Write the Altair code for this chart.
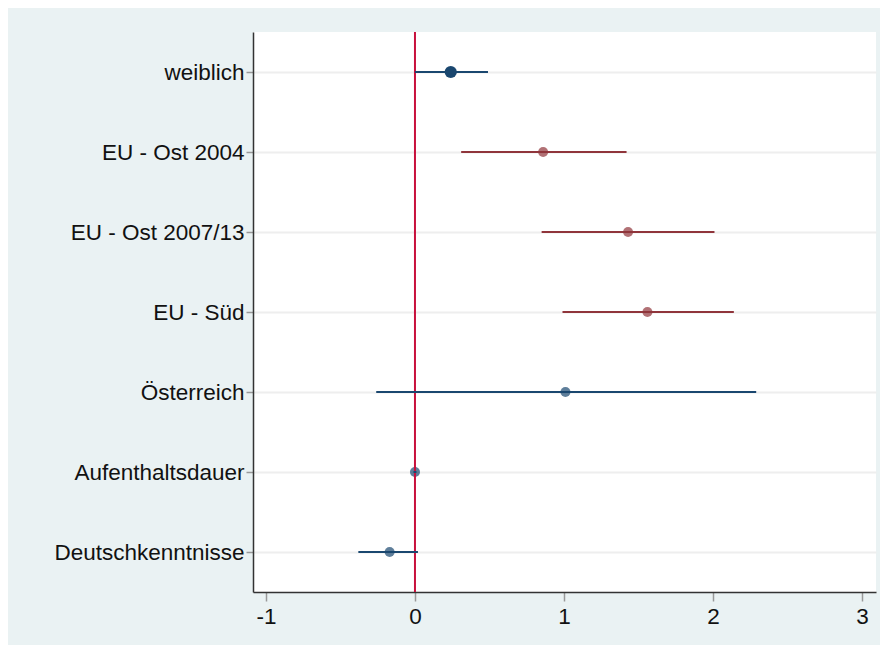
import altair as alt
import pandas as pd

labels = ["weiblich", "EU - Ost 2004", "EU - Ost 2007/13", "EU - Süd",
          "Österreich", "Aufenthaltsdauer", "Deutschkenntnisse"]
coef = [0.24, 0.86, 1.43, 1.56, 1.01, 0.0, -0.17]
lo = [0.0, 0.31, 0.85, 0.99, -0.26, -0.01, -0.38]
hi = [0.49, 1.42, 2.01, 2.14, 2.29, 0.01, 0.02]
group = ["a", "b", "b", "b", "a", "a", "a"]
x_ticks = [-1, 0, 1, 2, 3]

df = pd.DataFrame({"label": labels, "coef": coef, "lo": lo, "hi": hi, "group": group})
zero = pd.DataFrame({"x": [0]})

FONT = "Liberation Sans"
xscale = alt.Scale(domain=[-1.087, 3.094], nice=False, zero=False)
yscale = alt.Scale(type="point", domain=labels, padding=0.5)
color = alt.Color("group:N", scale=alt.Scale(domain=["a", "b"], range=["#1a476f", "#90353b"]), legend=None)

yaxis = alt.Axis(title=None, grid=True, gridColor="#eeeeee", gridWidth=2,
                 ticks=True, tickColor="#999999", tickSize=7, tickWidth=1.5,
                 labelPadding=2, labelFont=FONT, labelFontSize=22.5, labelColor="#111111",
                 labelLimit=400,
                 domainColor="#333333", domainWidth=1.5)
xaxis = alt.Axis(title=None, grid=False, values=x_ticks,
                 labelExpr="'' + datum.value",
                 ticks=True, tickColor="#999999", tickSize=9, tickWidth=1.5,
                 labelPadding=4, labelFont=FONT, labelFontSize=22.5, labelColor="#111111",
                 domainColor="#333333", domainWidth=1.5)

base = alt.Chart(df)

pts = base.transform_filter(alt.datum.label != "weiblich").mark_circle(size=100, opacity=0.7).encode(
    x=alt.X("coef:Q", scale=xscale, axis=xaxis),
    y=alt.Y("label:N", scale=yscale, axis=yaxis, sort=labels),
    color=color,
)

zline = alt.Chart(zero).mark_rule(color="#c8103c", strokeWidth=2).encode(
    x=alt.X("x:Q", scale=xscale)
)

ci = base.mark_rule(strokeWidth=2).encode(
    x=alt.X("lo:Q", scale=xscale),
    x2="hi:Q",
    y=alt.Y("label:N", scale=yscale, sort=labels),
    color=color,
)

big = base.transform_filter(alt.datum.label == "weiblich").mark_circle(size=150, opacity=1).encode(
    x=alt.X("coef:Q", scale=xscale),
    y=alt.Y("label:N", scale=yscale, sort=labels),
    color=color,
)

chart = alt.layer(pts, zline, ci, big).properties(
    width=623, height=560,
    autosize=alt.AutoSizeParams(type="none"),
    padding={"left": 245, "top": 24, "right": 4, "bottom": 53},
    background="#eaf2f3",
).configure_view(fill="white", stroke=None)

chart.save("out.html", embed_options={"renderer": "svg", "actions": False})
